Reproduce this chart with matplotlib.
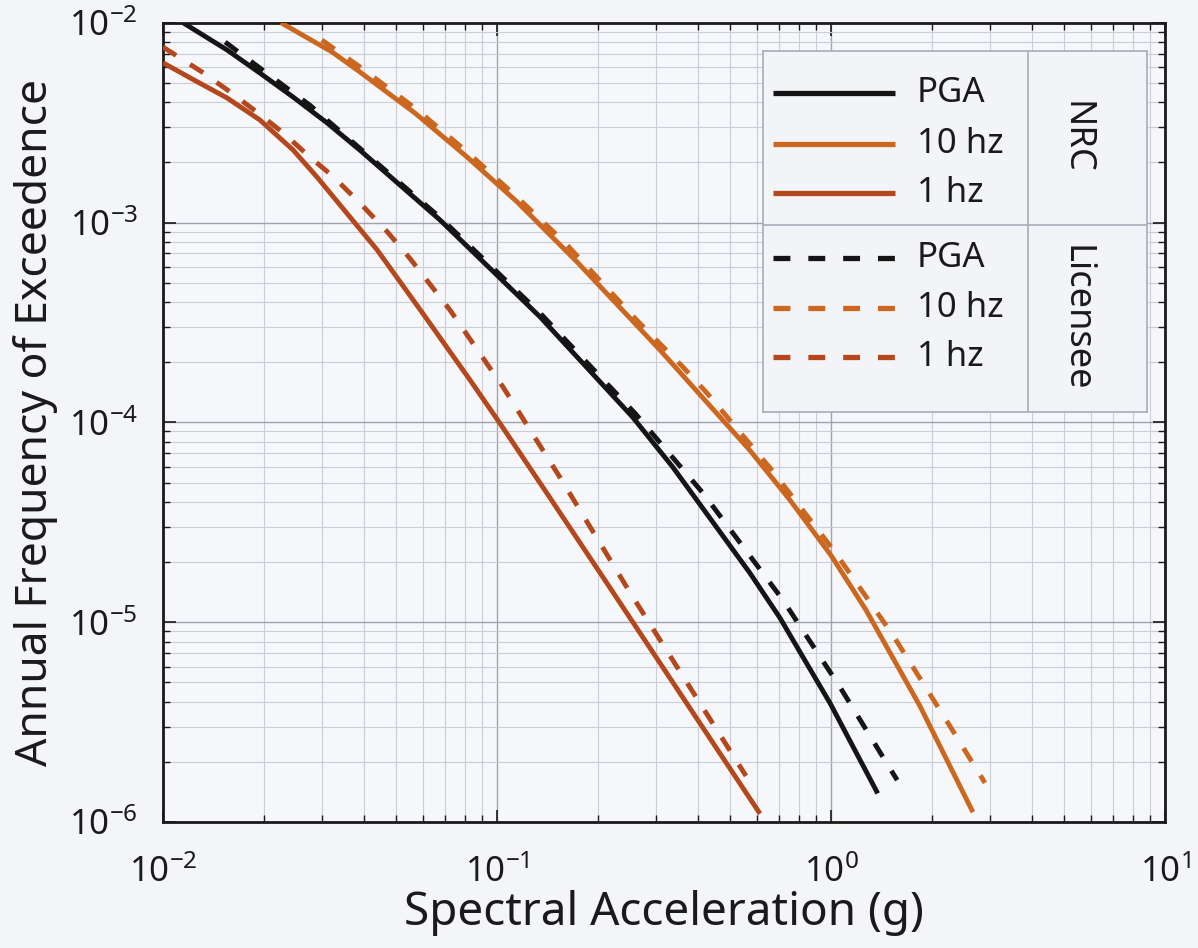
import matplotlib
matplotlib.use("Agg")
import matplotlib.pyplot as plt
from matplotlib.ticker import LogLocator, NullFormatter

plt.rcParams['font.family'] = ['Noto Sans', 'DejaVu Sans']
plt.rcParams['axes.unicode_minus'] = False

# hazard curves: spectral acceleration (g) vs annual frequency
nrc_pga_x = [0.01148, 0.01556, 0.0195, 0.0245, 0.031, 0.0389, 0.0675, 0.1346, 0.255, 0.336, 0.572, 0.7035, 0.807, 0.993, 1.38]
nrc_pga_y = [1.0e-2, 7.3e-3, 5.6e-3, 4.25e-3, 3.15e-3, 2.3e-3, 1.03e-3, 3.37e-4, 1.06e-4, 5.97e-5, 1.76e-5, 1.05e-5, 7.1e-6, 3.94e-6, 1.39e-6]

nrc_10hz_x = [0.02255, 0.0321, 0.0389, 0.0568, 0.0813, 0.1148, 0.1738, 0.3077, 0.571, 0.754, 1.0, 1.273, 1.847, 2.66]
nrc_10hz_y = [1.0e-2, 7.13e-3, 5.66e-3, 3.53e-3, 2.13e-3, 1.27e-3, 6.34e-4, 2.30e-4, 7.26e-5, 4.08e-5, 2.16e-5, 1.15e-5, 3.8e-6, 1.12e-6]

nrc_1hz_x = [0.01, 0.0123, 0.01556, 0.0195, 0.0245, 0.0289, 0.0438, 0.0604, 0.083, 0.102, 0.1413, 0.2106, 0.613]
nrc_1hz_y = [6.3e-3, 5.2e-3, 4.2e-3, 3.26e-3, 2.31e-3, 1.69e-3, 7.28e-4, 3.45e-4, 1.63e-4, 9.9e-5, 4.4e-5, 1.62e-5, 1.1e-6]

lic_pga_x = [0.01535, 0.0195, 0.0275, 0.0675, 0.1346, 0.259, 0.414, 0.718, 1.064, 1.578]
lic_pga_y = [8.0e-3, 5.93e-3, 3.87e-3, 1.06e-3, 3.52e-4, 1.11e-4, 4.42e-5, 1.29e-5, 4.73e-6, 1.62e-6]

lic_10hz_x = [0.0299, 0.0389, 0.0568, 0.0813, 0.1148, 0.160, 0.2624, 0.3605, 0.4256, 0.665, 1.028, 1.533, 2.24, 2.89]
lic_10hz_y = [8.19e-3, 6.0e-3, 3.74e-3, 2.26e-3, 1.34e-3, 7.9e-4, 3.24e-4, 1.89e-4, 1.40e-4, 5.77e-5, 2.24e-5, 8.6e-6, 3.13e-6, 1.57e-6]

lic_1hz_x = [0.01, 0.0131, 0.0159, 0.0191, 0.0229, 0.0275, 0.0323, 0.0389, 0.0469, 0.0549, 0.0723, 0.1043, 0.1544, 0.25, 0.5565]
lic_1hz_y = [7.55e-3, 5.66e-3, 4.5e-3, 3.57e-3, 2.81e-3, 2.13e-3, 1.70e-3, 1.25e-3, 9.0e-4, 6.6e-4, 3.65e-4, 1.50e-4, 5.3e-5, 1.41e-5, 1.70e-6]

labels = ['PGA', '10 hz', '1 hz']
groups = ['NRC', 'Licensee']

BLACK = '#151515'
ORANGE = '#CB671F'
RUST = '#B5471C'
DASH = (0, (3.2, 3.4))

# (x, y, colour, style, group, label)
series = [
    (nrc_pga_x, nrc_pga_y, BLACK, '-', 0, 0),
    (nrc_10hz_x, nrc_10hz_y, ORANGE, '-', 0, 1),
    (nrc_1hz_x, nrc_1hz_y, RUST, '-', 0, 2),
    (lic_pga_x, lic_pga_y, BLACK, DASH, 1, 0),
    (lic_10hz_x, lic_10hz_y, ORANGE, DASH, 1, 1),
    (lic_1hz_x, lic_1hz_y, RUST, DASH, 1, 2),
]

fig = plt.figure(figsize=(11.98, 9.48), dpi=100, facecolor='#f4f5f9')
ax = fig.add_axes([163 / 1198, 1 - 822 / 948, 1002 / 1198, 799.3 / 948])
ax.set_facecolor('#f6f7fa')

for x, y, c, ls, g, l in series:
    ax.plot(x, y, color=c, linestyle=ls, linewidth=3.5, solid_capstyle='butt',
            solid_joinstyle='round', zorder=3)

ax.set_xscale('log')
ax.set_yscale('log')
ax.set_xlim(1e-2, 1e1)
ax.set_ylim(1e-6, 1e-2)

ax.xaxis.set_major_locator(LogLocator(base=10, numticks=10))
ax.yaxis.set_major_locator(LogLocator(base=10, numticks=10))
ax.xaxis.set_minor_locator(LogLocator(base=10, subs=range(2, 10), numticks=20))
ax.yaxis.set_minor_locator(LogLocator(base=10, subs=range(2, 10), numticks=20))
ax.xaxis.set_minor_formatter(NullFormatter())
ax.yaxis.set_minor_formatter(NullFormatter())

ax.grid(True, which='major', color='#9ea3ae', linewidth=1.0, zorder=0)
ax.grid(True, which='minor', color='#c9cdd6', linewidth=0.8, zorder=0)

ax.tick_params(which='both', direction='in', top=True, right=True, colors='#1a1a1a')
ax.tick_params(which='major', length=9, width=1.2, labelsize=25)
ax.tick_params(which='minor', length=5, width=1.0)
ax.tick_params(axis='x', which='major', pad=24)
ax.tick_params(axis='y', which='major', pad=18)
for s in ax.spines.values():
    s.set_linewidth(2.0)
    s.set_color('#1a1a1a')

ax.set_xlabel('Spectral Acceleration (g)', fontsize=33, color='#1a1a1a', labelpad=0)
ax.set_ylabel('Annual Frequency of Exceedence', fontsize=32, color='#1a1a1a', labelpad=8)

# legend drawn as a small table: line sample | label | group name
leg = fig.add_axes([763 / 1198, 1 - 412 / 948, 384 / 1198, 361 / 948])
leg.set_xlim(0, 1)
leg.set_ylim(0, 1)
leg.set_facecolor('#f3f4f8')
leg.set_xticks([])
leg.set_yticks([])
for s in leg.spines.values():
    s.set_color('#a8acb5')
    s.set_linewidth(1.2)
row_y = [0.884, 0.742, 0.607, 0.427, 0.288, 0.152]
for x, y, c, ls, g, l in series:
    ry = row_y[g * 3 + l]
    leg.plot([0.026, 0.344], [ry, ry], color=c, linestyle=ls, linewidth=3.8, solid_capstyle='butt')
    leg.text(0.40, ry, labels[l], fontsize=25, va='center', ha='left', color='#1a1a1a')
leg.axvline(0.69, color='#a8acb5', linewidth=1.2)
leg.axhline(0.518, color='#a8acb5', linewidth=1.2)
leg.text(0.8125, 0.76, groups[0], fontsize=26, rotation=270, va='center', ha='center', color='#1a1a1a')
leg.text(0.8125, 0.259, groups[1], fontsize=26, rotation=270, va='center', ha='center', color='#1a1a1a')

fig.savefig('out.png', dpi=100, facecolor=fig.get_facecolor())
